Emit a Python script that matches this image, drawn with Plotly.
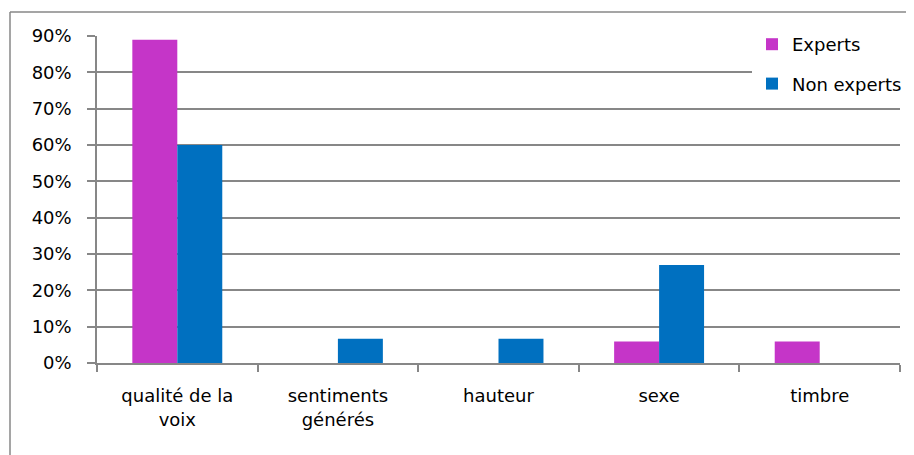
import plotly.graph_objects as go

categories = ['qualité de la<br>voix', 'sentiments<br>générés', 'hauteur', 'sexe', 'timbre']
experts = [0.89, 0, 0, 0.059, 0.059]
non_experts = [0.60, 0.067, 0.067, 0.27, 0]

# page body has an 8px margin, so the figure origin sits at (8, 8)
W, H = 914, 455
off = 8
ml, mr, mt, mb = 97 - off, 22, 36 - off, 100
pw = W - ml - mr
ph = H - mt - mb

font = dict(family='DejaVu Sans', size=18, color='#000000')
grey = '#878787'

fig = go.Figure()
fig.add_trace(go.Bar(x=categories, y=experts, name='Experts', marker_color='#C535C8',
                     legendgroup='a', marker_line_width=0))
fig.add_trace(go.Bar(x=categories, y=non_experts, name='Non experts', marker_color='#0070C0',
                     legendgroup='b', marker_line_width=0))

# outer chart frame (left + top visible)
fx = (10 - off - ml) / pw
fy = 1 + (mt - (12 - off)) / ph
fig.add_shape(type='line', xref='paper', yref='paper', x0=fx, x1=fx, y0=-0.5, y1=fy,
              line=dict(color=grey, width=1.5))
fig.add_shape(type='line', xref='paper', yref='paper', x0=fx, x1=1.2, y0=fy, y1=fy,
              line=dict(color=grey, width=1.5))

fig.update_layout(
    width=W, height=H,
    margin=dict(l=ml, r=mr, t=mt, b=mb, autoexpand=False),
    paper_bgcolor='white', plot_bgcolor='white',
    font=font,
    barmode='group', bargap=0.44, bargroupgap=0,
    showlegend=True,
    legend=dict(x=(752 - off - ml) / pw, xanchor='left', y=1 + (mt - (26 - off)) / ph,
                yanchor='top', bgcolor='white', font=font, tracegroupgap=13,
                itemwidth=30),
    xaxis=dict(showline=True, linecolor=grey, linewidth=1.5, ticks='outside',
               tickson='boundaries', ticklen=7, tickcolor=grey, tickwidth=1.5,
               ticklabelstandoff=16, showgrid=False, automargin=False),
    yaxis=dict(range=[0, 0.9], dtick=0.1, tickformat='.0%', showline=True,
               linecolor=grey, linewidth=1.5, ticks='outside', ticklen=8,
               tickcolor=grey, tickwidth=1.5, showgrid=True, gridcolor=grey,
               gridwidth=1.5, zeroline=False, ticklabelstandoff=12, automargin=False),
)

fig.write_html("out.html")
